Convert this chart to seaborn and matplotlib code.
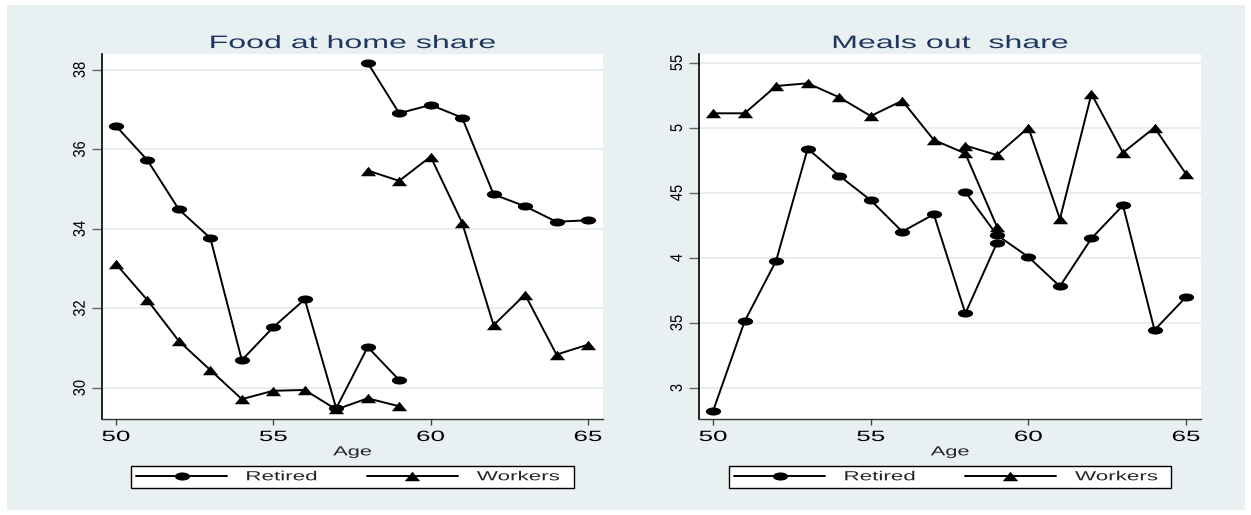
import matplotlib
matplotlib.use("Agg")
import matplotlib.pyplot as plt
import pandas as pd
import seaborn as sns
from matplotlib import patheffects
from matplotlib.lines import Line2D
from matplotlib.markers import MarkerStyle
from matplotlib.patches import Rectangle
from matplotlib.path import Path
from matplotlib.transforms import Affine2D

# ---- data -------------------------------------------------------------
ages_early = [50, 51, 52, 53, 54, 55, 56, 57, 58, 59]
ages_late = [58, 59, 60, 61, 62, 63, 64, 65]

home_retired_early = [0.3659, 0.3573, 0.3449, 0.3377, 0.3070, 0.3153, 0.3223, 0.2949, 0.3103, 0.3020]
home_retired_late = [0.3818, 0.3691, 0.3712, 0.3680, 0.3487, 0.3457, 0.3418, 0.3422]
home_workers_early = [0.3312, 0.3221, 0.3118, 0.3045, 0.2972, 0.2993, 0.2995, 0.2946, 0.2974, 0.2954]
home_workers_late = [0.3547, 0.3521, 0.3582, 0.3416, 0.3158, 0.3235, 0.3084, 0.3109]

meals_retired_early = [0.02823, 0.03513, 0.03979, 0.04841, 0.04633, 0.04444, 0.04203, 0.04336, 0.03574, 0.04115]
meals_retired_late = [0.04508, 0.04177, 0.04008, 0.03782, 0.04151, 0.04405, 0.03446, 0.03700]
meals_workers_early = [0.05113, 0.05113, 0.05323, 0.05344, 0.05236, 0.05092, 0.05210, 0.04908, 0.04804, 0.04242]
meals_workers_late = [0.04865, 0.04792, 0.05003, 0.04300, 0.05262, 0.04810, 0.05003, 0.04646]

groups = ["Retired", "Workers"]
titles = ["Food at home share", "Meals out  share"]
x_ticks = [50, 55, 60, 65]
x_tick_labels = ["50", "55", "60", "65"]
home_ticks = [0.30, 0.32, 0.34, 0.36, 0.38]
home_tick_labels = ["30", "32", "34", "36", "38"]
meals_ticks = [0.030, 0.035, 0.040, 0.045, 0.050, 0.055]
meals_tick_labels = ["3", "35", "4", "45", "5", "55"]


def long_frame(retired_early, retired_late, workers_early, workers_late):
    parts = []
    for group, seg, ages, vals in [
        ("Retired", "early", ages_early, retired_early),
        ("Retired", "late", ages_late, retired_late),
        ("Workers", "early", ages_early, workers_early),
        ("Workers", "late", ages_late, workers_late),
    ]:
        parts.append(pd.DataFrame({"age": ages, "share": vals,
                                   "group": group, "segment": seg}))
    return pd.concat(parts, ignore_index=True)


home_df = long_frame(home_retired_early, home_retired_late,
                     home_workers_early, home_workers_late)
meals_df = long_frame(meals_retired_early, meals_retired_late,
                      meals_workers_early, meals_workers_late)


# ---- horizontally widened text rendering ---------------------------------
class HStretch(patheffects.AbstractPathEffect):
    """Draw a path widened horizontally about its centre or left edge."""

    def __init__(self, sx, anchor="center"):
        super().__init__()
        self._sx = sx
        self._anchor = anchor

    def draw_path(self, renderer, gc, tpath, affine, rgbFace=None):
        ext = tpath.get_extents(affine)
        x0 = ext.x0 if self._anchor == "left" else 0.5 * (ext.x0 + ext.x1)
        tr = affine + Affine2D().translate(-x0, 0).scale(self._sx, 1).translate(x0, 0)
        renderer.draw_path(gc, tpath, tr, rgbFace)


class FitWidth(patheffects.AbstractPathEffect):
    """Widen a frame so it spans a given fraction of an axes width."""

    def __init__(self, ax, frac):
        super().__init__()
        self._ax = ax
        self._frac = frac

    def draw_path(self, renderer, gc, tpath, affine, rgbFace=None):
        ext = tpath.get_extents(affine)
        sx = self._frac * self._ax.bbox.width / max(ext.width, 1e-9)
        tr = affine + Affine2D().translate(-ext.x0, 0).scale(sx, 1).translate(ext.x0, 0)
        renderer.draw_path(gc, tpath, tr, rgbFace)


# ---- style ---------------------------------------------------------------
sns.set_style("white")
plt.rcParams["font.family"] = ["Liberation Sans", "DejaVu Sans"]

region_color = "#e8f0f2"
grid_color = "#e3ebee"
title_color = "#1f3860"

circ = Path.unit_circle()
dot = MarkerStyle(Path(circ.vertices * [1.0, 0.53], circ.codes))
tri = MarkerStyle(Path([(0, 0.62), (-1, -0.62), (1, -0.62), (0, 0.62)],
                       [Path.MOVETO, Path.LINETO, Path.LINETO, Path.CLOSEPOLY]))
marker_map = {"Retired": dot, "Workers": tri}

fig = plt.figure(figsize=(12.51, 5.15), dpi=100, facecolor="white")
fig.patches.append(Rectangle((0.0056, 0.0097), 0.9896, 0.9806,
                             transform=fig.transFigure, facecolor=region_color,
                             edgecolor="none", zorder=-10))

ax_home = fig.add_axes([0.0815, 0.1864, 0.4005, 0.7087])
ax_meals = fig.add_axes([0.5588, 0.1864, 0.4013, 0.7087])

panels = [
    (ax_home, home_df, titles[0], home_ticks, home_tick_labels, (0.2922, 0.3840), 0.058, 0.884),
    (ax_meals, meals_df, titles[1], meals_ticks, meals_tick_labels, (0.027615, 0.05569), 0.060, 0.880),
]

for ax, df, title, yt, ytl, ylim, leg_x, leg_w in panels:
    ax.set_facecolor("white")
    sns.lineplot(data=df, x="age", y="share", style="group", units="segment",
                 estimator=None, sort=False, markers=marker_map, dashes=False,
                 color="black", linewidth=1.4, markersize=11, markeredgewidth=0,
                 legend=False, ax=ax)

    ax.tick_params(axis="x", bottom=True, length=4.3, width=1, color="#444444",
                   pad=3.6, labelsize=10.7, labelcolor="black")
    ax.tick_params(axis="y", left=True, length=7.2, width=1, color="#666666",
                   pad=3.6, labelsize=10.5, labelcolor="black", labelrotation=90)

    ax.set_xlim(49.555, 65.477)
    ax.set_ylim(*ylim)
    ax.set_xticks(x_ticks)
    ax.set_xticklabels(x_tick_labels)
    ax.set_yticks(yt)
    ax.set_yticklabels(ytl)
    for lab in ax.get_yticklabels():
        lab.set_rotation(90)
        lab.set_verticalalignment("center")

    ax.yaxis.grid(True, color=grid_color, linewidth=1.2)
    ax.xaxis.grid(False)
    ax.set_axisbelow(True)

    for side in ["top", "right"]:
        ax.spines[side].set_visible(False)
    ax.spines["left"].set_color("black")
    ax.spines["left"].set_linewidth(1.2)
    ax.spines["bottom"].set_color("#333333")
    ax.spines["bottom"].set_linewidth(1.0)

    ax.set_ylabel("")
    ax.set_xlabel("Age", fontsize=9.5)
    ax.xaxis.set_label_coords(0.5, -0.075)
    ax.set_title(title, fontsize=13, color=title_color, pad=4.3)

    handles = [Line2D([], [], color="black", linewidth=1.4, marker=marker_map[g],
                      markersize=11, markeredgewidth=0) for g in groups]
    leg = ax.legend(handles, groups, loc="upper left", bbox_to_anchor=(leg_x, -0.1288),
                    bbox_transform=ax.transAxes, borderaxespad=0, ncol=2,
                    frameon=True, fancybox=False, shadow=False, framealpha=1,
                    facecolor="white", edgecolor="black", fontsize=9.5,
                    borderpad=0.38, handlelength=6.9, handletextpad=1.44,
                    columnspacing=5.9, numpoints=1)
    leg.get_frame().set_linewidth(1.0)
    leg.get_frame().set_path_effects([FitWidth(ax, leg_w)])
    for t in leg.get_texts():
        t.set_path_effects([HStretch(1.7, "left")])

    ax.title.set_path_effects([HStretch(1.78)])
    ax.xaxis.label.set_path_effects([HStretch(1.65)])
    for lab in ax.get_xticklabels():
        lab.set_path_effects([HStretch(1.75)])
    for lab in ax.get_yticklabels():
        lab.set_path_effects([HStretch(1.15)])

fig.savefig("out.png", dpi=100)
